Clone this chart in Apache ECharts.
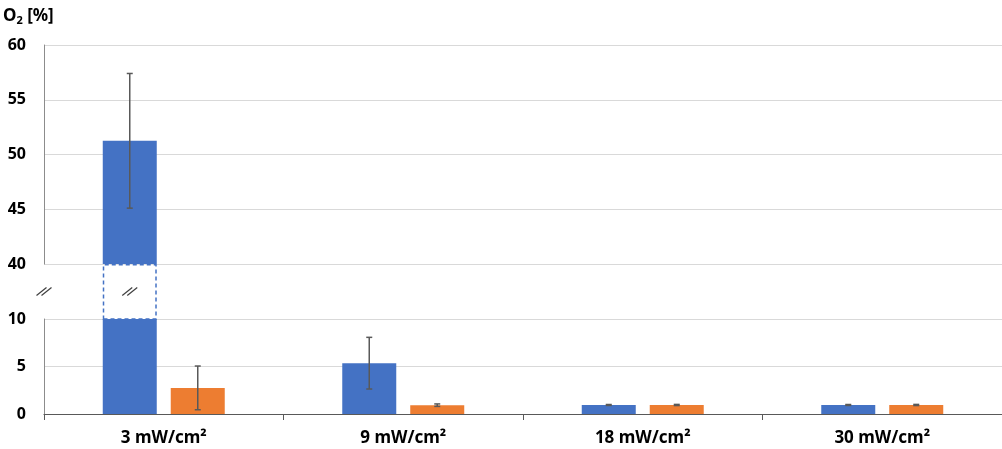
<!DOCTYPE html>
<html>
<head>
<meta charset="utf-8">
<script src="https://cdn.jsdelivr.net/npm/echarts@6/dist/echarts.min.js"></script>
<style>
html,body{margin:0;padding:0;background:#fff;}
#chart{width:1002px;height:449px;}
</style>
</head>
<body>
<div id="chart"></div>
<script>
// ---- data ----
const categories = ['3 mW/cm²', '9 mW/cm²', '18 mW/cm²', '30 mW/cm²'];
const blueMean = [51.25, 5.35, 0.95, 0.95];
const blueErr = [6.15, 2.72, 0.05, 0.05];
const orangeMean = [2.75, 0.93, 0.95, 0.95];
const orangeErr = [2.3, 0.13, 0.06, 0.06];
const upperRange = [40, 60];
const lowerRange = [0, 10];
const tickStep = 5;

// ---- style constants ----
const BLUE = '#4472C4';
const ORANGE = '#ED7D31';
const ERR = '#595959';
const BAR_W = 54;
const GAP_PX = 14;
const FONT = 'Noto Sans';

const breakLow = lowerRange[1], breakHigh = upperRange[0];

function errData(means, errs, side, lo, hi) {
  const out = [];
  means.forEach((m, i) => { if (m >= lo && m <= hi) out.push([i, m, errs[i], side]); });
  return out;
}

function renderErr(params, api) {
  const i = api.value(0), m = api.value(1), e = api.value(2), side = api.value(3);
  const c = api.coord([i, m]);
  const x = c[0] + side * (BAR_W + GAP_PX) / 2;
  const top = api.coord([i, m + e])[1];
  const bot = api.coord([i, m - e])[1];
  const cap = 3;
  const st = { stroke: ERR, lineWidth: 1.5 };
  return {
    type: 'group',
    children: [
      { type: 'line', shape: { x1: x, y1: top, x2: x, y2: bot }, style: st },
      { type: 'line', shape: { x1: x - cap, y1: top, x2: x + cap, y2: top }, style: st },
      { type: 'line', shape: { x1: x - cap, y1: bot, x2: x + cap, y2: bot }, style: st }
    ]
  };
}

function slashes(cx, cy) {
  const st = { stroke: '#404040', lineWidth: 1.2 };
  return [-2.5, 2.5].map(dx => ({
    type: 'line',
    shape: { x1: cx + dx - 5, y1: cy + 4, x2: cx + dx + 5, y2: cy - 4 },
    style: st
  }));
}

function renderBreak(params, api) {
  const i = api.value(0), v = api.value(1);
  const c = api.coord([i, v]);
  const bx = c[0] - (BAR_W + GAP_PX) / 2;
  let children = slashes(bx, c[1]);
  if (params.dataIndexInside === 0) children = children.concat(slashes(params.coordSys.x, c[1]));
  return { type: 'group', children: children };
}

const breakData = [];
blueMean.forEach((m, i) => { if (m > breakHigh) breakData.push([i, (breakLow + breakHigh) / 2]); });

const gridBase = { left: 44, width: 959 };
const labelStyle = { fontFamily: FONT, fontWeight: 'bold', fontSize: 16, color: '#000' };
const splitStyle = { lineStyle: { color: '#D9D9D9', width: 1 } };
const axisLineStyle = { show: true, lineStyle: { color: '#8C8C8C', width: 1 } };
const barGap = (GAP_PX / BAR_W * 100).toFixed(1) + '%';

const chart = echarts.init(document.getElementById('chart'), null, { renderer: 'canvas' });
chart.setOption({
  animation: false,
  backgroundColor: '#fff',
  grid: [
    Object.assign({ top: 45, height: 219 }, gridBase),
    Object.assign({ top: 264, height: 55 }, gridBase),
    Object.assign({ top: 319, height: 95 }, gridBase)
  ],
  xAxis: [
    { type: 'category', gridIndex: 0, data: categories, show: false },
    { type: 'category', gridIndex: 1, data: categories, show: false },
    {
      type: 'category', gridIndex: 2, data: categories,
      axisLine: { lineStyle: { color: '#595959', width: 1.2 } },
      axisTick: { show: true, length: 6, lineStyle: { color: '#595959' } },
      axisLabel: {
        fontFamily: FONT, fontWeight: 'bold', fontSize: 17, color: '#000', margin: 16
      }
    }
  ],
  yAxis: [
    {
      type: 'value', gridIndex: 0, min: upperRange[0], max: upperRange[1], interval: tickStep,
      axisLine: axisLineStyle, axisTick: { show: false },
      axisLabel: Object.assign({ margin: 18 }, labelStyle),
      splitLine: splitStyle
    },
    { type: 'value', gridIndex: 1, min: breakLow, max: breakHigh, show: false, splitLine: { show: false } },
    {
      type: 'value', gridIndex: 2, min: lowerRange[0], max: lowerRange[1], interval: tickStep,
      axisLine: axisLineStyle, axisTick: { show: false },
      axisLabel: Object.assign({ margin: 18 }, labelStyle),
      splitLine: splitStyle
    }
  ],
  graphic: [{
    type: 'text', left: 3, top: 8,
    style: {
      text: 'O{s|2} [%]',
      fontFamily: FONT, fontWeight: 'bold', fontSize: 17, fill: '#000',
      rich: { s: { fontFamily: FONT, fontWeight: 'bold', fontSize: 11, verticalAlign: 'bottom', padding: [8, 0, 0, 0] } }
    }
  }],
  series: [
    // upper grid
    { type: 'bar', name: 'blue', xAxisIndex: 0, yAxisIndex: 0, barWidth: BAR_W, barGap: barGap,
      data: blueMean.map(v => v > breakHigh ? v : '-'), itemStyle: { color: BLUE } },
    { type: 'bar', name: 'orange', xAxisIndex: 0, yAxisIndex: 0, barWidth: BAR_W, barGap: barGap,
      data: orangeMean.map(v => v > breakHigh ? v : '-'), itemStyle: { color: ORANGE } },
    // break grid
    { type: 'bar', name: 'blue-break', xAxisIndex: 1, yAxisIndex: 1, barWidth: BAR_W, barGap: barGap,
      data: blueMean.map(v => v > breakHigh ? breakHigh : '-'),
      itemStyle: { color: '#fff', borderColor: BLUE, borderWidth: 1.5, borderType: [4, 3] } },
    { type: 'bar', name: 'orange-break', xAxisIndex: 1, yAxisIndex: 1, barWidth: BAR_W, barGap: barGap,
      data: orangeMean.map(v => v > breakHigh ? breakHigh : '-'),
      itemStyle: { color: '#fff', borderColor: ORANGE, borderWidth: 1.5, borderType: [4, 3] } },
    { type: 'custom', xAxisIndex: 1, yAxisIndex: 1, data: breakData, renderItem: renderBreak,
      encode: { x: 0, y: 1 }, silent: true, z: 5 },
    // lower grid
    { type: 'bar', name: 'blue', xAxisIndex: 2, yAxisIndex: 2, barWidth: BAR_W, barGap: barGap,
      data: blueMean, itemStyle: { color: BLUE } },
    { type: 'bar', name: 'orange', xAxisIndex: 2, yAxisIndex: 2, barWidth: BAR_W, barGap: barGap,
      data: orangeMean, itemStyle: { color: ORANGE } },
    // error bars
    { type: 'custom', xAxisIndex: 0, yAxisIndex: 0, renderItem: renderErr, encode: { x: 0, y: 1 }, z: 6,
      data: errData(blueMean, blueErr, -1, upperRange[0], upperRange[1] + 100)
        .concat(errData(orangeMean, orangeErr, 1, upperRange[0], upperRange[1] + 100)) },
    { type: 'custom', xAxisIndex: 2, yAxisIndex: 2, renderItem: renderErr, encode: { x: 0, y: 1 }, z: 6,
      data: errData(blueMean, blueErr, -1, lowerRange[0], lowerRange[1])
        .concat(errData(orangeMean, orangeErr, 1, lowerRange[0], lowerRange[1])) }
  ]
});
</script>
</body>
</html>
